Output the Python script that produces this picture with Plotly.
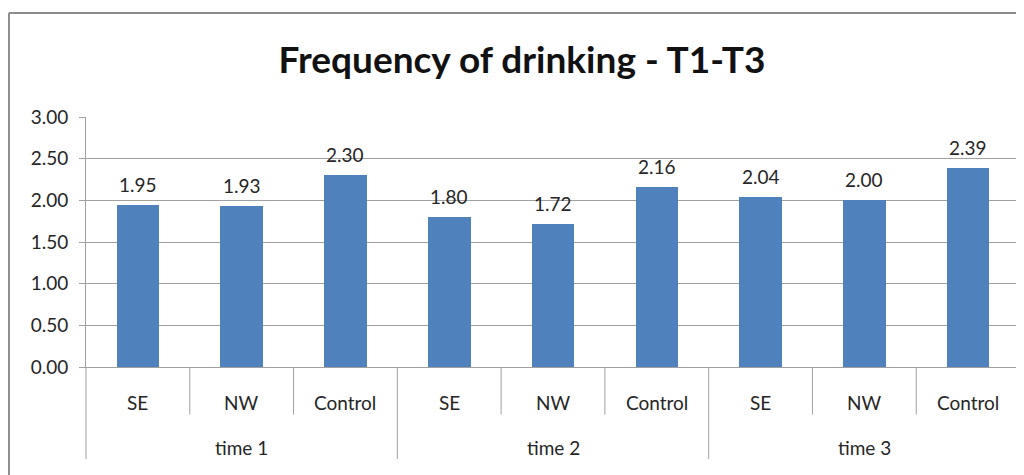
import plotly.graph_objects as go

# ---- data ----
groups = ["time 1", "time 2", "time 3"]
categories = ["SE", "NW", "Control"]
values = [1.95, 1.93, 2.30, 1.80, 1.72, 2.16, 2.04, 2.00, 2.39]
y_ticks = [0.0, 0.5, 1.0, 1.5, 2.0, 2.5, 3.0]

BAR = "#4F81BD"
GRID = "#A0A0A0"
TXT = "#262626"
FONT = "Lato"

n_cat = len(categories)
xs = list(range(len(values)))

fig = go.Figure()
fig.add_trace(go.Bar(x=xs, y=values, width=0.41, marker=dict(color=BAR, line=dict(width=0)),
                     hoverinfo="skip", showlegend=False))

annotations = []
# value labels
for x, v in zip(xs, values):
    annotations.append(dict(x=x, y=v, xref="x", yref="y", text=f"{v:.2f}", showarrow=False,
                            yanchor="bottom", yshift=7, font=dict(family=FONT, size=19, color=TXT)))
# category labels
for gi, g in enumerate(groups):
    for ci, c in enumerate(categories):
        annotations.append(dict(x=gi * n_cat + ci, y=-0.14, xref="x", yref="paper", text=c,
                                showarrow=False, yanchor="middle",
                                font=dict(family=FONT, size=19, color=TXT)))
    annotations.append(dict(x=gi * n_cat + (n_cat - 1) / 2, y=-0.32, xref="x", yref="paper", text=g,
                            showarrow=False, yanchor="middle",
                            font=dict(family=FONT, size=19, color=TXT)))

shapes = []
# inner dividers
for gi in range(len(groups)):
    for ci in range(1, n_cat):
        xb = gi * n_cat + ci - 0.5
        shapes.append(dict(type="line", xref="x", yref="paper", x0=xb, x1=xb, y0=0, y1=-0.19,
                           line=dict(color=GRID, width=1)))
# group dividers
for gi in range(1, len(groups)):
    xb = gi * n_cat - 0.5
    shapes.append(dict(type="line", xref="x", yref="paper", x0=xb, x1=xb, y0=0, y1=-0.368,
                       line=dict(color=GRID, width=1)))
for xd in (0, 1):
    shapes.append(dict(type="line", xref="x domain", yref="paper", x0=xd, x1=xd, y0=0, y1=-0.368,
                       line=dict(color=GRID, width=1)))
# outer chart border (left and top edges visible)
shapes.append(dict(type="line", xref="paper", yref="paper", x0=-0.0825, x1=-0.0825, y0=-1.0, y1=1.416,
                   line=dict(color="#8C8C8C", width=2), layer="below"))
shapes.append(dict(type="line", xref="paper", yref="paper", x0=-0.0825, x1=1.2, y0=1.416, y1=1.416,
                   line=dict(color="#8C8C8C", width=2), layer="below"))

fig.update_layout(
    width=1016, height=467,
    margin=dict(l=78, r=4, t=109, b=108),
    paper_bgcolor="white", plot_bgcolor="white",
    title=dict(text="<b>Frequency of drinking - T1-T3</b>", x=514 / 1016, xref="container",
               xanchor="center", y=1 - 52 / 467, yref="container", yanchor="middle",
               font=dict(family=FONT, size=37, color="#111111")),
    xaxis=dict(range=[-0.5, len(values) - 0.5], showticklabels=False, ticks="", showgrid=False,
               zeroline=False, showline=True, linecolor=GRID, linewidth=1, fixedrange=True),
    yaxis=dict(range=[0, 3], tickvals=y_ticks, tickformat=".2f", ticks="outside", ticklen=6,
               tickcolor=GRID, showgrid=True, gridcolor=GRID, gridwidth=1, zeroline=False,
               showline=True, linecolor=GRID, linewidth=1, ticklabelstandoff=7,
               tickfont=dict(family=FONT, size=19, color=TXT), fixedrange=True),
    annotations=annotations, shapes=shapes, bargap=0,
)

fig.write_html("out.html")
